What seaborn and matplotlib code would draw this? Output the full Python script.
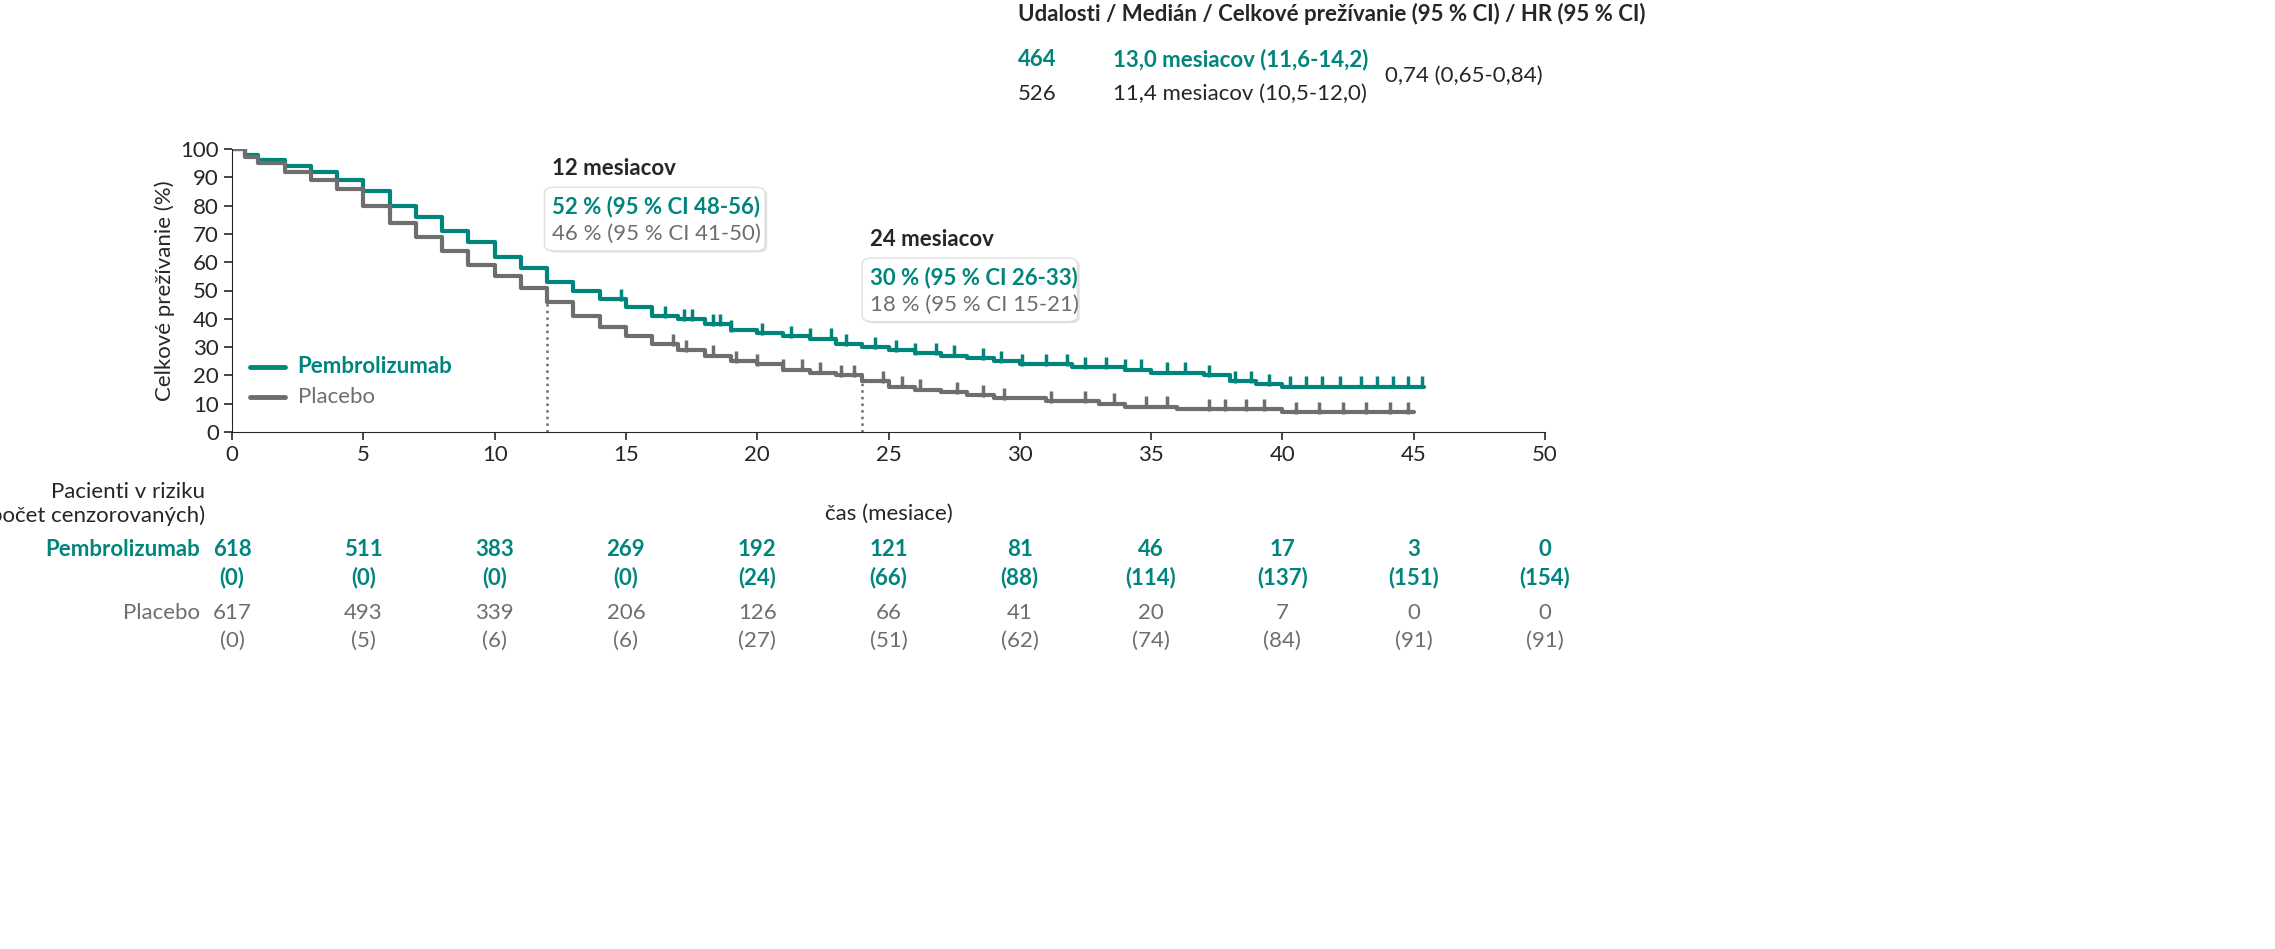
import matplotlib
matplotlib.use("Agg")
import matplotlib.pyplot as plt
import seaborn as sns
import pandas as pd
from matplotlib.patches import FancyBboxPatch
from matplotlib.transforms import blended_transform_factory

sns.set_style("ticks")
plt.rcParams['font.family'] = ['Lato', 'DejaVu Sans']

TEAL = "#00857C"
GRAY = "#6E6E6E"
FS = 16

pem_t = [0,0.5,1,2,3,4,5,6,7,8,9,10,11,12,13,14,15,16,17,18,19,20,21,22,23,24,25,26,27,28,29,30,32,34,35,37,38,39,40,45.4]
pem_s = [100,98,96,94,92,89,85,80,76,71,67,62,58,53,50,47,44,41,40,38,36,35,34,33,31,30,29,28,27,26,25,24,23,22,21,20,18,17,16,16]
pla_t = [0,0.5,1,2,3,4,5,6,7,8,9,10,11,12,13,14,15,16,17,18,19,20,21,22,23,24,25,26,27,28,29,31,33,34,36,38,40,45]
pla_s = [100,97,95,92,89,86,80,74,69,64,59,55,51,46,41,37,34,31,29,27,25,24,22,21,20,18,16,15,14,13,12,11,10,9,8,8,7,7]
pem_cens = [14.8,16.5,17.2,17.5,18.3,18.6,19.0,20.2,21.3,22.0,22.8,23.4,24.5,25.3,26.0,26.8,27.5,28.6,29.3,30.1,31.0,31.8,32.5,33.3,34.0,34.6,35.6,36.3,37.2,38.2,38.8,39.5,40.3,40.9,41.5,42.2,43.0,43.6,44.2,44.8,45.3]
pla_cens = [16.8,17.3,18.3,19.2,20.0,21.0,21.7,22.4,23.2,23.7,24.8,25.5,26.2,27.6,28.6,29.4,31.2,32.5,33.6,34.8,35.6,37.2,37.8,38.6,39.3,40.5,41.4,42.3,43.2,44.1,44.8]
risk_x = [0,5,10,15,20,25,30,35,40,45,50]
pem_risk = [618,511,383,269,192,121,81,46,17,3,0]
pem_cen = [0,0,0,0,24,66,88,114,137,151,154]
pla_risk = [617,493,339,206,126,66,41,20,7,0,0]
pla_cen = [0,5,6,6,27,51,62,74,84,91,91]

def step_at(ts, ss, x):
    v = ss[0]
    for t, s in zip(ts, ss):
        if t <= x: v = s
    return v

fig = plt.figure(figsize=(22.75, 9.49), dpi=100)
ax = fig.add_axes([232/2275, 1-432/949, (1545-232)/2275, (432-149)/949])

df = pd.concat([pd.DataFrame({"t": pem_t, "s": pem_s, "g": "Pembrolizumab"}),
                pd.DataFrame({"t": pla_t, "s": pla_s, "g": "Placebo"})])
sns.lineplot(data=df, x="t", y="s", hue="g", palette={"Pembrolizumab": TEAL, "Placebo": GRAY},
             drawstyle="steps-post", lw=3, ax=ax, legend=False, estimator=None)
ax.plot(pem_cens, [step_at(pem_t, pem_s, x) + 1.5 for x in pem_cens], ls="none", marker="|", ms=9, mew=2.5, color=TEAL)
ax.plot(pla_cens, [step_at(pla_t, pla_s, x) + 1.5 for x in pla_cens], ls="none", marker="|", ms=9, mew=2.5, color=GRAY)

ax.set_xlim(0, 50); ax.set_ylim(0, 100)
ax.set_xticks(range(0, 51, 5)); ax.set_yticks(range(0, 101, 10))
ax.tick_params(labelsize=FS, length=6, width=1.2)
for s in ["top", "right"]: ax.spines[s].set_visible(False)
ax.set_xlabel("čas (mesiace)", fontsize=FS, labelpad=28)
ax.set_ylabel("Celkové prežívanie (%)", fontsize=FS)

ax.vlines(12, 0, 46, colors=GRAY, ls=":", lw=1.8)
ax.vlines(24, 0, 18, colors=GRAY, ls=":", lw=1.8)

ax.plot([0.7, 2.0], [23, 23], color=TEAL, lw=3.5)
ax.plot([0.7, 2.0], [12.5, 12.5], color=GRAY, lw=3.5)
ax.text(2.5, 23, "Pembrolizumab", color=TEAL, fontsize=FS, fontweight="bold", va="center")
ax.text(2.5, 12.5, "Placebo", color=GRAY, fontsize=FS, va="center")

def box(x0, y0, w, h, title, l1, l2):
    ax.add_patch(FancyBboxPatch((x0 + 0.08, y0 - 0.6), w, h, boxstyle="round,pad=0,rounding_size=0.4",
                                fc="black", ec="none", alpha=0.12, zorder=4, mutation_aspect=5))
    ax.add_patch(FancyBboxPatch((x0, y0), w, h, boxstyle="round,pad=0,rounding_size=0.4",
                                fc="white", ec="#e0e0e0", lw=1, zorder=5, mutation_aspect=5))
    ax.text(x0 + 0.3, y0 + h + 6.5, title, fontsize=FS, fontweight="bold", va="center", zorder=6)
    ax.text(x0 + 0.3, y0 + h*0.7, l1, fontsize=FS, fontweight="bold", color=TEAL, va="center", zorder=6)
    ax.text(x0 + 0.3, y0 + h*0.27, l2, fontsize=FS, color=GRAY, va="center", zorder=6)

box(11.9, 64, 8.4, 22.5, "12 mesiacov", "52 % (95 % CI 48-56)", "46 % (95 % CI 41-50)")
box(24.0, 39, 8.2, 22.5, "24 mesiacov", "30 % (95 % CI 26-33)", "18 % (95 % CI 15-21)")

tr = blended_transform_factory(ax.transData, fig.transFigure)
def fy(p): return 1 - p/949
for x, r, c in zip(risk_x, pem_risk, pem_cen):
    fig.text(x, fy(550), str(r), transform=tr, ha="center", va="center", fontsize=FS, fontweight="bold", color=TEAL)
    fig.text(x, fy(578), f"({c})", transform=tr, ha="center", va="center", fontsize=FS, fontweight="bold", color=TEAL)
for x, r, c in zip(risk_x, pla_risk, pla_cen):
    fig.text(x, fy(613), str(r), transform=tr, ha="center", va="center", fontsize=FS, color=GRAY)
    fig.text(x, fy(641), f"({c})", transform=tr, ha="center", va="center", fontsize=FS, color=GRAY)
fig.text(200/2275, fy(550), "Pembrolizumab", ha="right", va="center", fontsize=FS, fontweight="bold", color=TEAL)
fig.text(200/2275, fy(613), "Placebo", ha="right", va="center", fontsize=FS, color=GRAY)
fig.text(205/2275, fy(492), "Pacienti v riziku", ha="right", va="center", fontsize=FS)
fig.text(205/2275, fy(516), "(počet cenzorovaných)", ha="right", va="center", fontsize=FS)

fig.text(1018/2275, fy(14), "Udalosti / Medián / Celkové prežívanie (95 % CI) / HR (95 % CI)",
         fontsize=FS, fontweight="bold", va="center")
fig.text(1018/2275, fy(60), "464", fontsize=FS, fontweight="bold", color=TEAL, va="center")
fig.text(1113/2275, fy(60), "13,0 mesiacov (11,6-14,2)", fontsize=FS, fontweight="bold", color=TEAL, va="center")
fig.text(1018/2275, fy(94), "526", fontsize=FS, va="center")
fig.text(1113/2275, fy(94), "11,4 mesiacov (10,5-12,0)", fontsize=FS, va="center")
fig.text(1385/2275, fy(76), "0,74 (0,65-0,84)", fontsize=FS, va="center")

fig.savefig("out.png", dpi=100)
